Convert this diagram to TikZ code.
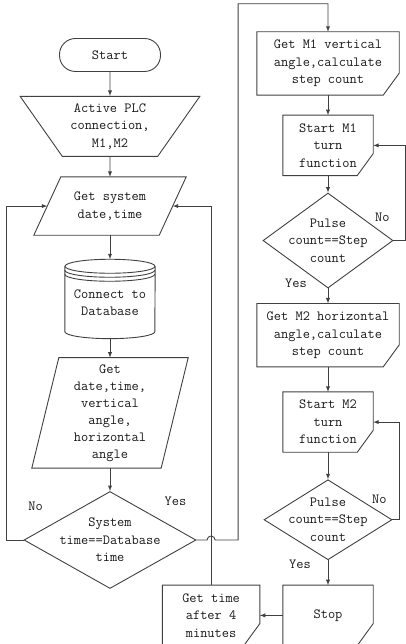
\documentclass[tikz,border=0pt]{standalone}
\usetikzlibrary{positioning,shapes.geometric,calc}

\begin{document}
\begin{tikzpicture}[
    x=1pt, y=1pt,
    >=latex,
    node distance=20pt,
    font=\ttfamily\fontsize{14}{17.5}\selectfont,
    every node/.style={align=center, text=black!90},
    line/.style={draw=black!75, line width=0.9pt},
    terminal/.style={line, rectangle, rounded corners=16pt, minimum width=101pt, minimum height=33pt},
    manual/.style={line, trapezium, trapezium stretches=true, trapezium left angle=127, trapezium right angle=127, minimum width=180pt, minimum height=60pt, inner sep=1pt},
    io/.style={rectangle, inner sep=0pt},
    decision/.style={line, diamond, aspect=1.6, inner sep=-10pt},
    card/.style={rectangle, minimum height=60pt, inner sep=0pt},
    store/.style={rectangle, minimum width=90pt, minimum height=72pt, inner sep=0pt}
]
    \useasboundingbox (0,0) rectangle (406,644);

    % left column
    \node[terminal] (start) at (110,589) {Start};
    \node[manual] (plc) [below=24pt of start] {Active PLC\\connection,\\M1,M2};
    \node[io, minimum width=125pt, minimum height=58pt] (getdt) [below=20pt of plc] {Get system\\date,time};
    \node[store] (db) [below=31pt of getdt] {Connect to\\Database};
    \node[io, minimum width=129pt, minimum height=110pt, font=\ttfamily\fontsize{14}{17}\selectfont] (getall) [below=19pt of db] {Get\\date,time,\\vertical\\angle,\\horizontal\\angle};
    \node[decision, minimum width=172pt, minimum height=97pt] (dec) [below=23pt of getall] {System\\time==Database\\time};

    % right column
    \node[card, minimum width=142pt, minimum height=63pt] (m1) at (328,580.5) {Get M1 vertical\\angle,calculate\\step count};
    \node[card, minimum width=90pt] (st1) [below=20pt of m1] {Start M1\\turn\\function};
    \node[decision, minimum width=130pt, minimum height=95pt] (dec1) [below=17pt of st1] {Pulse\\count==Step\\count};
    \node[card, minimum width=142pt, minimum height=63pt] (m2) [below=15pt of dec1] {Get M2 horizontal\\angle,calculate\\step count};
    \node[card, minimum width=90pt] (st2) [below=25pt of m2] {Start M2\\turn\\function};
    \node[decision, minimum width=128pt, minimum height=80pt] (dec2) [below=27pt of st2] {Pulse\\count==Step\\count};
    \node[card, minimum width=90pt] (stop) [below=25pt of dec2] {Stop};
    \node[card, minimum width=97pt] (wait) [left=23pt of stop] {Get time\\after 4\\minutes};

    % Yes / No labels
    \node (no) at ([xshift=12pt,yshift=34pt]dec.west) {No};
    \node (yes) at ([xshift=-21pt,yshift=39pt]dec.east) {Yes};
    \node (no1) at ([xshift=-11pt,yshift=23pt]dec1.east) {No};
    \node (yes1) at ([xshift=-32pt,yshift=5pt]dec1.south) {Yes};
    \node (no2) at ([xshift=-13pt,yshift=20pt]dec2.east) {No};
    \node (yes2) at ([xshift=-28pt,yshift=-4pt]dec2.south) {Yes};

    % slanted input boxes
    \foreach \n in {getdt,getall}
        \draw[line] ([xshift=13.5pt]\n.north west) -- ([xshift=13.5pt]\n.north east)
            -- ([xshift=-13.5pt]\n.south east) -- ([xshift=-13.5pt]\n.south west) -- cycle;

    % cut-corner boxes
    \foreach \n in {m1,st1,m2,st2,stop,wait}
        \draw[line] (\n.north west) -- (\n.north east) -- ([yshift=22pt]\n.south east)
            -- ([xshift=-16pt]\n.south east) -- (\n.south west) -- cycle;

    % database drum
    \draw[line] (db.north west) -- ([yshift=7pt]db.south west)
        arc[start angle=180, end angle=360, x radius=45pt, y radius=7pt] -- (db.north east);
    \draw[line] (db.north) ellipse[x radius=45pt, y radius=7pt];
    \foreach \d in {4,8}
        \draw[line] ([yshift=-\d pt]db.north west) arc[start angle=180, end angle=360, x radius=45pt, y radius=7pt];

    % straight connectors
    \foreach \a/\b in {start/plc, plc/getdt, db/getall, getall/dec, m1/st1, st1/dec1,
                       dec1/m2, m2/st2, st2/dec2, dec2/stop, stop/wait}
        \draw[line,->] (\a) -- (\b);
    \draw[line,->] (getdt) -- ([yshift=7pt]db.north);

    % loops
    \draw[line,->] (dec.west) -- ++(-17pt,0) |- (getdt);
    \draw[line,->] (wait.north) |- (getdt);
    \draw[line,->] (dec.east) -- ($(dec.east -| wait.north)+(-4pt,0)$)
        arc[start angle=180, end angle=0, radius=4pt]
        -- ($(dec.east -| wait.north)+(27pt,0)$) |- ([yshift=28pt]m1.north) -- (m1.north);
    \draw[line,->] (dec1.east) -- ++(12pt,0) |- (st1);
    \draw[line,->] (dec2.east) -- ++(7pt,0) |- (st2);
\end{tikzpicture}
\end{document}
